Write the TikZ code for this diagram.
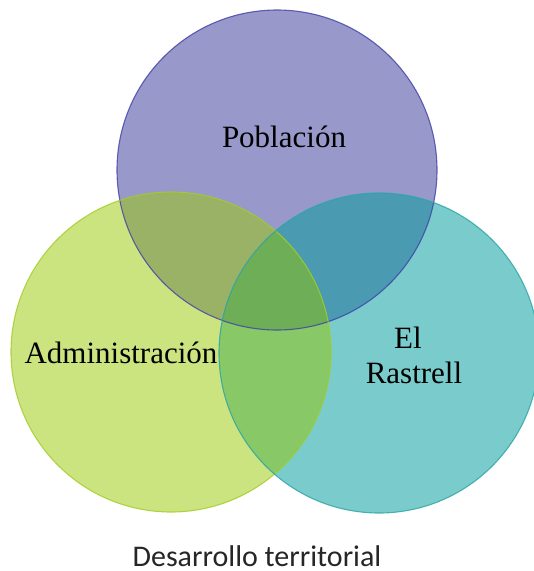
\documentclass[tikz,border=0pt]{standalone}
\usepackage{fontspec}
\setmainfont{Liberation Serif}
\newfontfamily\capfont{Carlito}
\definecolor{topC}{HTML}{9898CA}
\definecolor{leftC}{HTML}{CCE480}
\definecolor{rightC}{HTML}{7ACBCB}
\definecolor{tlC}{HTML}{9AB266}
\definecolor{trC}{HTML}{4A9AB2}
\definecolor{lrC}{HTML}{88C866}
\definecolor{allC}{HTML}{6EAE56}
\definecolor{topB}{HTML}{4040A8}
\definecolor{leftB}{HTML}{A0CC28}
\definecolor{rightB}{HTML}{2AA5A5}
\tikzset{
  lbl/.style={font=\fontsize{31}{34}\selectfont, text=black, inner sep=0pt, anchor=base},
  captxt/.style={font=\capfont\fontsize{30}{33}\selectfont, text=black!85, inner sep=0pt, anchor=base},
  ring/.style={line width=1.1pt, draw opacity=0.8}
}
\begin{document}
\begin{tikzpicture}[x=1pt,y=-1pt]
\useasboundingbox (0,0) rectangle (534,571);
\clip (0,0) rectangle (534,571);
\coordinate (T) at (277,170);
\coordinate (L) at (171,352);
\coordinate (R) at (379,353);
\def\rad{160pt}
% single fills
\fill[topC] (T) circle[radius=\rad];
\fill[leftC] (L) circle[radius=\rad];
\fill[rightC] (R) circle[radius=\rad];
% pairwise overlaps
\begin{scope}
  \clip (T) circle[radius=\rad];
  \fill[tlC] (L) circle[radius=\rad];
  \fill[trC] (R) circle[radius=\rad];
\end{scope}
\begin{scope}
  \clip (L) circle[radius=\rad];
  \fill[lrC] (R) circle[radius=\rad];
  \clip (R) circle[radius=\rad];
  \fill[allC] (T) circle[radius=\rad];
\end{scope}
% outlines
\draw[ring, topB] (T) circle[radius=\rad];
\draw[ring, leftB] (L) circle[radius=\rad];
\draw[ring, rightB] (R) circle[radius=\rad];
% labels
\node[lbl] (pob) at (284,147) {Población};
\node[lbl] (adm) at (121,363) {Administración};
\node[lbl] (el) at (408,348) {El};
\node[lbl] (ras) at (414,383) {Rastrell};
\node[captxt] (caption) at (257,566) {Desarrollo territorial};
\end{tikzpicture}
\end{document}
